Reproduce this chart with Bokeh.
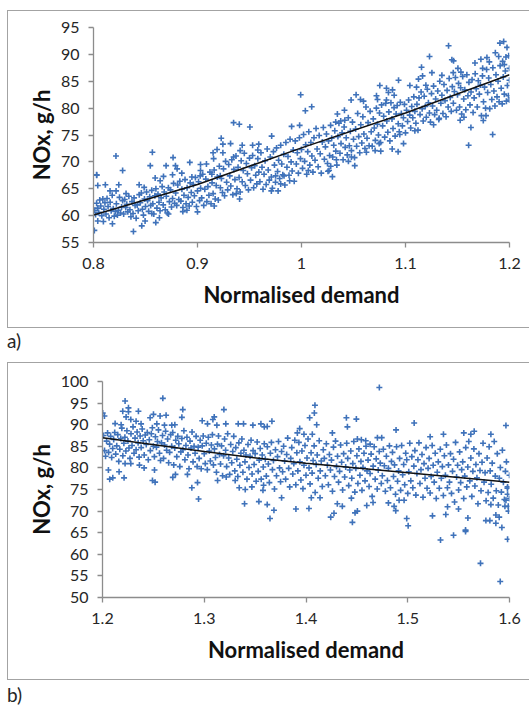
from bokeh.embed import file_html
from bokeh.resources import INLINE
from bokeh.plotting import figure
from bokeh.layouts import column
from bokeh.models import Column, Div, FixedTicker, Range1d, CustomJSTickFormatter

# ---------- panel a) ----------
a_x_ticks = [0.8, 0.9, 1.0, 1.1, 1.2]
a_y_ticks = [55, 60, 65, 70, 75, 80, 85, 90, 95]
a_trend_x = [0.8, 0.9, 1.0, 1.1, 1.2]
a_trend_y = [60.1, 65.8, 72.6, 79.1, 86.2]
a_edge = [(.803,67.6),(.8216,71.1),(.828,68.4),(.8546,69.3),(.8566,71.8),(.8698,69.3),(.8765,70.8),(.8788,69.3),(.8804,68.7),
(.8926,69.9),(.9086,69.6),(.9029,69.5),(.9029,68.4),(.9347,77.3),(.9402,77.0),(.9504,76.5),(.9228,74.4),(.9318,73.4),(.9244,73.3),(.9188,72.3),
(.915,71.7),(.9244,71.7),(.9155,70.6),(.943,73.1),(.953,73.1),(.9589,73.3),(.958,72.2),(.9347,70.9),(.941,72.1),
(1.1414,91.6),(1.1944,92.4),(1.1908,92.1),(1.1976,91.3),(1.1231,89.6),(1.1446,89.0),(1.1462,88.8),(1.1864,90.3),(1.1896,89.6),(1.1992,89.75),(1.1966,89.5),
(1.1725,89.1),(1.1783,89.4),(1.1668,88.4),(1.1742,87.4),(1.1806,88.6),(1.1934,88.7),(1.195,88.1),(1.1154,87.6),(1.1254,86.6),(1.1459,86.6),(1.1504,87.4),
(1.1533,86.7),(1.135,86.1),(1.0933,85.2),(1.1164,86),(1.1125,85.4),(1.1196,84.25),(1.1042,84.2),(1.1106,83.9),(1.0753,84.2),(1.0817,83.7),(1.0875,83.4),
(1.0836,82.9),(1.0891,82.4),(1.0525,82.5),(1.0477,81.5),(1.0567,81.6),(1.0596,81.3),(1.0721,82.3),(1.0731,81.6),(1.0817,81.5),(.9992,82.5),(1.0098,80.25),
(1.0037,79.5),(1.0413,79.6),(1.0345,78.9),(.9905,76.6),(.9982,76.8),(.9713,74.8),(1.0329,77.4),(1.0377,77.6),(1.0416,77.75),
(1.1838,75.1),(1.1607,73.1),(1.1629,76.4),(1.1748,77.7),(1.1774,78.6),(1.1526,77.75),(1.1562,78.3),(1.127,76.9),(1.1324,78.1),(1.109,75.8),(1.0981,73.4),
(1.0929,71.9),(1.0872,72.4),(1.0945,75.1),(1.0762,72),(1.0708,72.1),(1.0624,71.8),(1.0747,73.4),(1.0512,69.3),(1.0451,70.1),(1.048,70.9),(1.0281,69.2),
(1.0265,68.4),(1.0066,68.4),(1.0336,70.4),(1.0297,67.25),(1.0255,68.25),(.9886,66.5),(.98,65.9),(.9832,67.4),(.9751,67.4),(.971,64.6),(.9775,64.6),
(.8008,57.25),(.8384,57.06),(.8599,58.7),(.8464,58.1),(.8182,58.5),(.8095,58.9),(.8041,59),(.9,60.7),(.9161,61.8),(.8859,60.75),(.8898,61),(.9405,63.1),
(.9373,64.1),(.8561,60.4),(.8634,59.6),(.8721,60.3),(.8496,59),(.8031,67.5),(.8041,65.6),(.8114,65.75),(.8243,65.75),(.8217,64.6),(.8159,64.6),(.8313,64.1),
(.8439,65.75),(.8487,65.25),(.8593,67),(.8673,67.3),(.8641,66.5),(.876,67.6),(.8849,67.9),(.8946,67.2),(.9026,67.4),(.9138,67.7),(.9219,67.4)]
a_low_x = [(.801,61),(.802,60.2),(.803,62.3),(.804,61.4),(.805,60.6),(.806,62.9),(.807,61.8),(.808,60),(.809,63.1),(.81,61.2),(.811,62.4),(.812,60.3),
(.813,63.2),(.814,61.7),(.815,59.6),(.816,62.5),(.817,60.9),(.818,63.8),(.819,61.3),(.82,59.9),(.821,60.8),(.822,62.2),(.823,60.1),(.824,61),(.825,63.4),
(.826,60.5),(.827,61.6),(.828,62.8),(.829,60.3),(.83,63),(.831,61.5),(.832,62.1),(.833,60.7),(.834,63.6),(.835,61.1),(.836,59.8),(.837,62.6),(.838,60.4),
(.839,63.3),(.84,61.9),(.841,59.5),(.842,62),(.843,60.9),(.844,63.9),(.845,62.4),(.846,64.2),(.847,61.2),(.848,60.1),(.849,63.1),(.85,61.7),(.851,64.4),
(.852,62.8),(.853,60.8),(.854,63.5),(.855,61.9),(.856,64.7),(.857,62.2),(.858,60.3),(.859,63.7),(.86,65),(.861,61.4),(.862,64),(.863,62.5),(.864,60.9),
(.865,63.3),(.866,65.4),(.867,62),(.868,64.4),(.869,61.1),(.87,63.6),(.871,60.5),(.872,65.2),(.873,62.6),(.874,64.8),(.875,61.6),(.876,63.2),(.877,66),
(.878,62.3),(.879,64.2),(.88,61.9),(.881,65.7),(.882,63),(.883,66.4),(.884,62.7),(.885,64.9),(.886,61.5),(.887,63.8),(.888,66.7),(.889,62.2),(.89,65.2),
(.891,63.4),(.892,61.8),(.893,66.1),(.894,64.3),(.895,62.5),(.896,65.8),(.897,63.7),(.898,67.1),(.899,61.7),(.9,64.6),(.901,66.3),(.902,62.8),(.903,65.1),
(.904,63.3),(.905,67.7),(.906,61.9),(.907,64.9),(.908,66.8),(.909,62.6),(.91,65.4),(.911,63.8),(.912,68.1),(.913,62.2),(.914,66.1),(.915,64.1),(.916,68.5),
(.917,63.1),(.918,65.6),(.919,67.2),(.92,62.9),(.921,69.2),(.922,65.2),(.923,66.9),(.924,64.3),(.925,68.7),(.926,63.7),(.927,70.1),(.928,66.2),(.929,64.8),
(.93,69.5),(.931,67.4),(.932,65.5),(.933,70.4),(.934,63.9),(.935,68.6),(.936,66.7),(.937,71.1),(.938,65),(.939,69),(.94,67.1),(.941,64.4),(.942,70.2),
(.943,66.3),(.944,68.4),(.945,71.6),(.946,65.6),(.947,69.7),(.948,67.8),(.949,64.8),(.95,70.7),(.951,66.6),(.952,68.9),(.953,71.2),(.954,65.2),(.955,69.3),
(.956,67.5),(.957,65.9),(.958,70.6),(.959,68.1),(.96,66.3),(.961,71.7),(.962,69),(.963,64.9),(.964,67.7),(.965,70.2),(.966,65.8),(.967,72.4),(.968,68.5),
(.969,66.6),(.97,70.9),(.971,67.2),(.972,65.1),(.973,71.9),(.974,69.4),(.975,66.2)]
a_mid_x = [(.976,72.6),(.977,68.2),(.978,70.3),(.979,66.9),(.98,73.1),(.981,69.6),(.982,67.6),(.983,71.4),(.984,65.7),(.985,73.6),(.986,69),(.987,71),(.988,67.5),
(.989,74.2),(.99,70),(.991,68.3),(.992,72.2),(.993,66.4),(.994,73.9),(.995,69.6),(.996,71.7),(.997,67.9),(.998,74.5),(.999,70.6),(1.0,72.3),(1.001,68.8),(1.002,75.1),
(1.003,70.1),(1.004,73.2),(1.005,67.7),(1.006,71.9),(1.007,75.6),(1.008,69.4),(1.009,73.6),(1.01,71.1),(1.011,68.1),(1.012,74.5),(1.013,70.3),(1.014,76.2),(1.015,72.4),
(1.016,69.1),(1.017,74.9),(1.018,71.5),(1.019,67.9),(1.02,73.7),(1.021,76.4),(1.022,70.5),(1.023,72.8),(1.024,75.2),(1.025,69.7),(1.026,73.9),(1.027,71.2),(1.028,76.8),
(1.029,74.4),(1.03,70.9),(1.031,73.1),(1.032,75.8),(1.033,72),(1.034,69.4),(1.035,74.7),(1.036,77.2),(1.037,71.6),(1.038,73.4),(1.039,75.4),(1.04,70.4),(1.041,76.5),
(1.042,72.7),(1.043,74.5),(1.044,71.3),(1.045,78.2),(1.046,73),(1.047,75.7),(1.048,72.1),(1.049,77.4),(1.05,74.2),(1.051,70.8),(1.052,76.1),(1.053,72.9),(1.054,79),
(1.055,74.7),(1.056,71.7),(1.057,76.9),(1.058,73.5),(1.059,78.4),(1.06,75.2),(1.061,72.5),(1.062,80.2),(1.063,74.4),(1.064,77.3),(1.065,73),(1.066,79.4),(1.067,75.6),
(1.068,72.9),(1.069,78),(1.07,76.3),(1.071,74),(1.072,80),(1.073,77),(1.074,75),(1.075,79.1),(1.076,73.6),(1.077,80.6),(1.078,76.7),(1.079,78.5),(1.08,74.6),(1.081,80.9),
(1.082,77.6),(1.083,75.5),(1.084,79.3),(1.085,73.9),(1.086,81),(1.087,78),(1.088,76.2),(1.089,80.1),(1.09,74.8),(1.091,78.9),(1.092,80.5),(1.093,77.1),(1.094,75.6),
(1.095,81.1),(1.096,79),(1.097,76.7),(1.098,78.2),(1.099,80.7),(1.1,75.4),(1.101,79.6),(1.102,77.5),(1.103,81.5),(1.104,78.7),(1.105,76.3),(1.106,80.3),(1.107,78.2),
(1.108,82.1),(1.109,79.4),(1.11,77.2),(1.111,80.7),(1.112,75.9),(1.113,81.9),(1.114,78.8),(1.115,83),(1.116,79.9),(1.117,77.6),(1.118,82.2),(1.119,80.3),(1.12,78.3),
(1.121,83.5),(1.122,81),(1.123,79.1),(1.124,77.4),(1.125,82.7),(1.126,80.4),(1.127,84.1),(1.128,78.8),(1.129,81.7),(1.13,79.6),(1.131,83.2),(1.132,77.9),(1.133,85),
(1.134,80.9),(1.135,82.4),(1.136,79),(1.137,84.4),(1.138,81.4),(1.139,78.4),(1.14,83.3),(1.141,80.2),(1.142,85.5)]
a_high_x = [(1.143,82),(1.144,79.4),(1.145,84),(1.146,80.9),(1.147,83.1),(1.148,85.7),(1.149,79.6),(1.15,82.5),(1.151,84.6),(1.152,80.2),(1.153,83.8),(1.154,78.9),
(1.155,85.9),(1.156,81.7),(1.157,83.4),(1.158,79.7),(1.159,86.2),(1.16,82.3),(1.161,84.8),(1.162,80.6),(1.163,83),(1.164,85.3),(1.165,79.2),(1.166,81.9),(1.167,86.4),
(1.168,83.6),(1.169,80.2),(1.17,85.1),(1.171,82.6),(1.172,84.3),(1.173,78.6),(1.174,86),(1.175,81.2),(1.176,83.9),(1.177,80),(1.178,87.2),(1.179,82.9),(1.18,85.6),
(1.181,79.9),(1.182,84.4),(1.183,81.6),(1.184,87.5),(1.185,83.2),(1.186,80.4),(1.187,86.2),(1.188,82.1),(1.189,85),(1.19,81.2),(1.191,87.9),(1.192,83.7),(1.193,80.8),
(1.194,85.8),(1.195,82.6),(1.196,86.9),(1.197,81.3),(1.198,84.2),(1.199,82.3),(1.2,87.4),(1.2,85.2),(1.2,81.5)]

# ---------- panel b) ----------
b_x_ticks = [1.2, 1.3, 1.4, 1.5, 1.6]
b_y_ticks = [50, 55, 60, 65, 70, 75, 80, 85, 90, 95, 100]
b_trend_x = [1.2, 1.3, 1.36, 1.4, 1.5, 1.6]
b_trend_y = [87.0, 83.8, 82.05, 81.05, 78.9, 76.7]
b_edge = [(1.2002,92.7),(1.2019,92),(1.2222,95.5),(1.2593,96.1),(1.2353,93.1),(1.2255,93.9),(1.2199,93.1),(1.2255,93),(1.2232,91.8),(1.2278,91.2),(1.2789,93.5),
(1.3193,93.5),(1.278,91.7),(1.3098,91.8),(1.3085,91.2),(1.298,90.9),(1.2501,92.4),(1.2566,92),(1.2625,92.2),(1.2468,91.6),(1.2124,90.25),(1.2183,90),(1.233,90.8),
(1.2379,90.2),(1.2534,90.2),(1.2609,89.9),(1.2681,89.9),(1.2711,90),(1.3032,90.2),(1.3124,89.9),(1.3212,90.2),(1.3334,90.2),(1.3386,90.2),(1.3478,89.9),(1.3557,90.2),
(1.359,89.5),(1.2944,72.8),(1.3396,71.7),(1.3537,72.2),(1.2878,75.4),(1.2934,76.6),(1.3403,75),(1.3468,75.6),(1.3344,75.4),(1.3577,74.8),(1.3583,76),(1.2491,77.1),
(1.2517,76.7),(1.2071,77.4),(1.2101,77.7),(1.2212,77.7),(1.2835,78.5),(1.2717,78.5),(1.2691,77.8),(1.3131,77.1),(1.3216,77.9),(1.3304,77.1),(1.2363,80.65),(1.2409,80),
(1.2511,79.5),(1.2058,79.5),(1.2163,79.1),(1.2222,81),(1.2278,81),
(1.4721,98.6),(1.4088,94.5),(1.4082,92.7),(1.4036,91.6),(1.4105,90),(1.3665,90.8),(1.4397,91.6),(1.4495,91.3),(1.4407,89.5),(1.5063,90.4),(1.4885,88.8),(1.5965,89.8),
(1.5351,87.8),(1.522,87.2),(1.5551,88.1),(1.5653,88.5),(1.562,87.8),(1.5817,87.8),(1.4259,88.1),(1.3938,89.1),(1.3915,88.1),(1.398,87.8),(1.4062,87.8),(1.4702,87),
(1.4744,87),(1.4505,86.7),(1.4544,86.5),(1.4587,86.3),(1.463,85.5),(1.3619,89.6),(1.4456,67.4),(1.5004,66.6),(1.499,68.3),(1.4243,68.6),(1.4275,69.5),(1.4482,69.6),
(1.4505,70),(1.3646,68.3),(1.3685,70.2),(1.3901,70.5),(1.4029,70.6),(1.4308,71.7),(1.4357,71.1),(1.3619,71.5),(1.5243,68.9),(1.5374,69.2),(1.5591,68.4),(1.5768,67.8),
(1.5807,67.8),(1.5866,69.1),(1.5899,68.6),(1.5866,67.2),(1.5925,66.2),(1.5568,65.6),(1.5391,71),(1.5499,70.5),(1.4882,70.1),(1.4866,71.1),(1.481,71.9),(1.4915,72.5),
(1.4964,72.5),(1.4597,71.3),(1.376,73.1),(1.4052,73.1),(1.4138,73.1),(1.4446,73),(1.4659,72),(1.5817,71.5),(1.5988,71.1),(1.5955,71.1),(1.5965,72.5),(1.5981,75.6),
(1.5981,73.9),(1.5322,63.3),(1.545,64.4),(1.5568,65.3),(1.5981,63.5),(1.5715,57.9),(1.5909,53.7)]
b_low_x = [(1.201,87.5),(1.202,84),(1.203,82.7),(1.204,86.2),(1.205,88.1),(1.206,83.6),(1.207,85.5),(1.208,87.3),(1.209,82.4),(1.21,84.5),(1.211,86.6),(1.212,88.2),(1.213,83.2),
(1.214,85.1),(1.215,87.7),(1.216,81.5),(1.217,84.3),(1.218,86.8),(1.219,89.2),(1.22,82.8),(1.221,85.7),(1.222,87.1),(1.223,83.9),(1.224,88.6),(1.225,86.2),(1.226,84.6),
(1.227,82.2),(1.228,87.9),(1.229,85.2),(1.23,89.5),(1.231,83.4),(1.232,86.9),(1.233,84.2),(1.234,88.3),(1.235,85.8),(1.236,82.5),(1.237,87.4),(1.238,84.7),(1.239,89),
(1.24,86.3),(1.241,83),(1.242,87.6),(1.243,85.4),(1.244,88.2),(1.245,81.9),(1.246,86.5),(1.247,84),(1.248,87.9),(1.249,89.3),(1.25,85),(1.251,82.6),(1.252,87.2),(1.253,84.8),
(1.254,86.1),(1.255,88.8),(1.256,83.4),(1.257,81.7),(1.258,85.8),(1.259,87.5),(1.26,82.2),(1.261,85.3),(1.262,88.5),(1.263,84.1),(1.264,86.7),(1.265,81.2),(1.266,83.6),
(1.267,87.7),(1.268,85),(1.269,88.2),(1.27,80.7),(1.271,84.6),(1.272,86.4),(1.273,82.6),(1.274,87.3),(1.275,85.6),(1.276,80.3),(1.277,83.7),(1.278,86.8),(1.279,84.2),
(1.28,88.6),(1.281,81.9),(1.282,85.2),(1.283,87.1),(1.284,83),(1.285,79.8),(1.286,86.2),(1.287,84.6),(1.288,88.3),(1.289,81.4),(1.29,85),(1.291,83.4),(1.292,87.3),(1.293,80.3),
(1.294,84.8),(1.295,82.2),(1.296,86.4),(1.297,79.8),(1.298,85.1),(1.299,87.4),(1.3,83.3),(1.301,81),(1.302,85.7),(1.303,79.6),(1.304,87.1),(1.305,83.9),(1.306,81.6),(1.307,85.3),
(1.308,87.7),(1.309,80.7),(1.31,84.4),(1.311,82.4),(1.312,79),(1.313,85.5),(1.314,87.4),(1.315,83.1),(1.316,80.9),(1.317,85.1),(1.318,78.2),(1.319,82.8),(1.32,86.7),(1.321,84.1),
(1.322,80.3),(1.323,87.9),(1.324,82.3),(1.325,78.5),(1.326,85.4),(1.327,81.2),(1.328,83.8),(1.329,87.3),(1.33,79.3),(1.331,84.7),(1.332,82),(1.333,78),(1.334,85.8),(1.335,80.6),
(1.336,83.4),(1.337,86.7),(1.338,79),(1.339,84.1),(1.34,81.4),(1.341,83),(1.342,77.4),(1.343,85.4),(1.344,80.1),(1.345,82.7),(1.346,86.4),(1.347,78.6),(1.348,84),(1.349,80.8),
(1.35,83.3),(1.351,76.9),(1.352,86),(1.353,79.2),(1.354,81.8),(1.355,84.5),(1.356,77.4),(1.357,83),(1.358,80.2),(1.359,85.6)]
b_mid_x = [(1.36,82),(1.361,78.1),(1.362,84.9),(1.363,80.9),(1.364,76.6),(1.365,83.4),(1.366,85.9),(1.367,79.6),(1.368,81.7),(1.369,75.1),(1.37,84.2),(1.371,78.2),(1.372,82.6),
(1.373,86.1),(1.374,80),(1.375,76.8),(1.376,83.8),(1.377,79.1),(1.378,85),(1.379,81.6),(1.38,77.4),(1.381,83.1),(1.382,86.9),(1.383,79.9),(1.384,75.6),(1.385,82.2),(1.386,84.7),
(1.387,78.6),(1.388,81),(1.389,86.4),(1.39,76.1),(1.391,83.5),(1.392,79.3),(1.393,85.9),(1.394,81.4),(1.395,77.2),(1.396,83.9),(1.397,75.2),(1.398,80.6),(1.399,85.2),(1.4,78.3),
(1.401,82.3),(1.402,86.7),(1.403,80),(1.404,76.3),(1.405,83.5),(1.406,78.8),(1.407,81.7),(1.408,85.1),(1.409,74.3),(1.41,80.8),(1.411,83),(1.412,77.6),(1.413,86.3),(1.414,79.3),
(1.415,81.6),(1.416,75.7),(1.417,84.2),(1.418,82.2),(1.419,78.2),(1.42,85.6),(1.421,80.6),(1.422,76.1),(1.423,83.1),(1.424,79.5),(1.425,81.8),(1.426,74.6),(1.427,84.8),(1.428,78),
(1.429,86.2),(1.43,80.3),(1.431,82.7),(1.432,76.7),(1.433,79.2),(1.434,85.3),(1.435,81.3),(1.436,74.9),(1.437,83.3),(1.438,77.9),(1.439,80.2),(1.44,85.7),(1.441,82.2),(1.442,75.9),
(1.443,79.5),(1.444,83.9),(1.445,77.6),(1.446,81),(1.447,86.1),(1.448,74.4),(1.449,79.9),(1.45,82.8),(1.451,76.4),(1.452,84.4),(1.453,78.3),(1.454,81.5),(1.455,74.8),(1.456,80.1),
(1.457,83.4),(1.458,77),(1.459,85),(1.46,79.3),(1.461,81.8),(1.462,75.7),(1.463,78.7),(1.464,83.2),(1.465,73.4),(1.466,80.4),(1.467,84.9),(1.468,77.4),(1.469,82.1),(1.47,75.1),
(1.471,79.5),(1.472,83.8),(1.473,81.1),(1.474,76.4),(1.475,78.2),(1.476,84.3),(1.477,80.5),(1.478,74.6),(1.479,82.7),(1.48,77.1),(1.481,79.9),(1.482,85.1),(1.483,75.4),(1.484,81.5),
(1.485,83.6),(1.486,78),(1.487,80.7),(1.488,73.9),(1.489,84.9),(1.49,76.9),(1.491,79.3),(1.492,82.2),(1.493,74.8),(1.494,85.2),(1.495,78.4),(1.496,80.8),(1.497,76.1),(1.498,83.4),
(1.499,81.9),(1.5,74.1)]
b_high_x = [(1.501,79.1),(1.502,85.7),(1.503,77),(1.504,82.6),(1.505,75.4),(1.506,80.4),(1.507,84),(1.508,73.7),(1.509,78.7),(1.51,81.9),(1.511,85.8),(1.512,76.4),(1.513,79.6),(1.514,83.1),
(1.515,73.2),(1.516,81),(1.517,77.6),(1.518,84.7),(1.519,75.3),(1.52,79.9),(1.521,82.2),(1.522,74.2),(1.523,78),(1.524,85.2),(1.525,80.6),(1.526,76.7),(1.527,83.4),(1.528,72.9),(1.529,79),
(1.53,81.4),(1.531,75.3),(1.532,84.3),(1.533,77.6),(1.534,80.3),(1.535,73.6),(1.536,82.8),(1.537,78.3),(1.538,85.3),(1.539,75.4),(1.54,80.7),(1.541,76.7),(1.542,83.3),(1.543,74.1),(1.544,79.2),
(1.545,82),(1.546,72.1),(1.547,85.9),(1.548,77.9),(1.549,80.6),(1.55,74.9),(1.551,83.7),(1.552,76.6),(1.553,79.6),(1.554,81.4),(1.555,72.9),(1.556,78.1),(1.557,84.7),(1.558,75.6),(1.559,80.2),
(1.56,86.1),(1.561,77),(1.562,82.3),(1.563,73.4),(1.564,79.2),(1.565,84.4),(1.566,75.8),(1.567,80.8),(1.568,77.7),(1.569,71.7),(1.57,83.3),(1.571,79.4),(1.572,74.7),(1.573,81.3),(1.574,85.7),
(1.575,76.7),(1.576,78.9),(1.577,72.4),(1.578,82.3),(1.579,74.3),(1.58,84.9),(1.581,79.3),(1.582,76.2),(1.583,81.1),(1.584,73),(1.585,86.1),(1.586,78.1),(1.587,74.7),(1.588,83.3),(1.589,71.4),
(1.59,77.6),(1.591,80.1),(1.592,74.4),(1.593,84.1),(1.594,76.7),(1.595,72.7),(1.596,79.2),(1.597,81.4),(1.598,75.3),(1.599,70),(1.6,78.3),(1.6,72.9)]

BLUE = "#3f72ba"
GREY = "#8c8c8c"
FONT = "Lato"
TXT = "#262626"
FRAME = "1.5px solid #a3a3a3"
WIDTH = 522


def panel(points, trend_x, trend_y, x_range, y_range, x_ticks, y_ticks,
          plot_left, plot_top, plot_w, plot_h, fig_h, margin_top, stand_y):
    xs = [p[0] for p in points]
    ys = [p[1] for p in points]
    p = figure(width=WIDTH, height=fig_h, output_backend="svg", toolbar_location=None,
               x_range=Range1d(*x_range), y_range=Range1d(*y_range),
               frame_width=plot_w, frame_height=plot_h,
               min_border_left=plot_left, min_border_top=plot_top,
               min_border_right=WIDTH - plot_left - plot_w,
               min_border_bottom=fig_h - plot_top - plot_h,
               margin=(margin_top, 0, 0, 7),
               styles={"border-top": FRAME, "border-left": FRAME, "border-bottom": FRAME,
                       "box-sizing": "border-box"})
    p.grid.visible = False
    p.outline_line_color = None
    p.background_fill_color = "white"
    p.scatter(xs, ys, marker="cross", size=6, line_color=BLUE, line_width=1.6)
    p.line(trend_x, trend_y, line_color="#111111", line_width=1.5)
    for ax, ticks in ((p.xaxis[0], x_ticks), (p.yaxis[0], y_ticks)):
        ax.ticker = FixedTicker(ticks=ticks)
        ax.axis_line_color = GREY
        ax.axis_line_width = 1.3
        ax.major_tick_line_color = GREY
        ax.major_tick_line_width = 1.3
        ax.major_tick_in = 0
        ax.major_tick_out = 5
        ax.minor_tick_line_color = None
        ax.major_label_text_font = FONT
        ax.major_label_text_font_size = "16px"
        ax.major_label_text_color = TXT
        ax.axis_label_text_font = FONT
        ax.axis_label_text_font_style = "bold"
        ax.axis_label_text_font_size = "22px"
        ax.axis_label_text_color = "#111111"
    p.xaxis[0].formatter = CustomJSTickFormatter(code="return String(Math.round(tick*10)/10)")
    p.xaxis[0].axis_label = "Normalised demand"
    p.yaxis[0].axis_label = "NOx, g/h"
    p.xaxis[0].major_label_standoff = 10
    p.xaxis[0].axis_label_standoff = 9
    p.yaxis[0].major_label_standoff = 9
    p.yaxis[0].axis_label_standoff = stand_y
    return p


def tag(text, margin_top, height):
    return Div(text=text, width=60, height=height, margin=(margin_top, 0, 0, 7),
               styles={"font-family": FONT, "font-size": "19px", "line-height": "20px",
                       "color": TXT, "overflow": "visible"})


a_points = a_edge + a_low_x + a_mid_x + a_high_x
b_points = b_edge + b_low_x + b_mid_x + b_high_x

p1 = panel(a_points, a_trend_x, a_trend_y, (0.8, 1.2), (55, 95), a_x_ticks, a_y_ticks,
           85, 16, 415, 213, 316, 10, 3)
t1 = tag("a)", 3, 20)
p2 = panel(b_points, b_trend_x, b_trend_y, (1.2, 1.6), (50, 100), b_x_ticks, b_y_ticks,
           94, 18, 406, 214, 316, 11, 3)
t2 = tag("b)", 5, 20)

# Each figure sits in its own wrapper so the two plot frames keep their own left edges.
page = column(Column(p1), t1, Column(p2), t2, spacing=0)
open("out.html", "w").write(file_html(page, INLINE))
